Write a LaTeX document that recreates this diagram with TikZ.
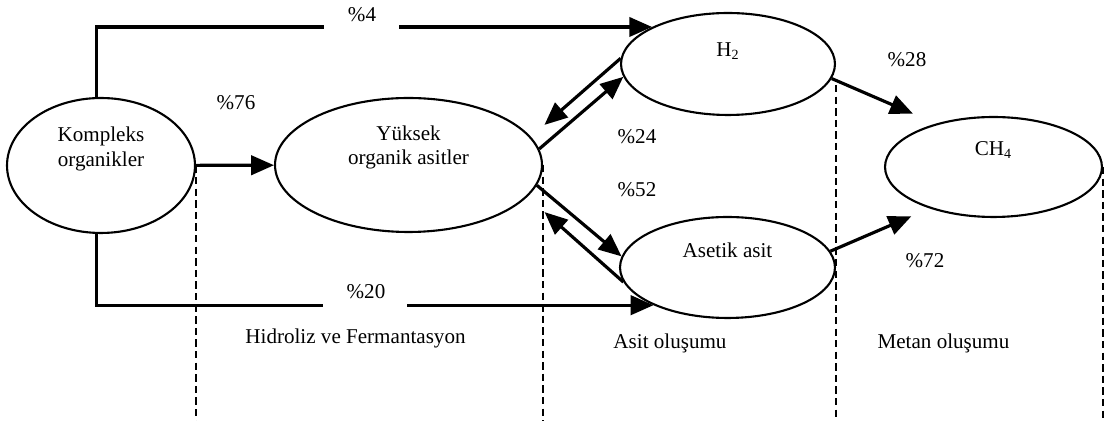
\documentclass[tikz,border=0pt]{standalone}
\usepackage{fontspec}
\setmainfont{Liberation Serif}
\usetikzlibrary{shapes.geometric, arrows.meta}

\begin{document}
\begin{tikzpicture}[
  x=0.02cm, y=-0.02cm,
  stage/.style={ellipse, draw, line width=1.2pt, inner sep=0pt},
  txt/.style={font=\fontsize{12}{14}\selectfont, align=center},
  arr/.style={-{Triangle[length=13pt, width=11pt]}, line width=1.8pt},
  gap/.style={fill=white, inner sep=0pt, minimum height=0.18cm},
  phase/.style={dash pattern=on 4.2pt off 2.4pt, line width=1.2pt}
]
\useasboundingbox (0,0) rectangle (1106,421);

% stages
\node[stage, minimum width=3.76cm, minimum height=2.7cm,
      label={[txt, yshift=0.33cm]center:Kompleks\\organikler}] (kompleks) at (101,165.5) {};
\node[stage, minimum width=5.34cm, minimum height=2.68cm,
      label={[txt, yshift=0.35cm]center:Yüksek\\organik asitler}] (yuksek) at (408.5,165) {};
\node[stage, minimum width=4.28cm, minimum height=2.04cm,
      label={[txt, yshift=0.26cm]center:H\textsubscript{2}}] (h2) at (728,64) {};
\node[stage, minimum width=4.3cm, minimum height=2.02cm,
      label={[txt, yshift=0.35cm]center:Asetik asit}] (asetik) at (727.5,267.5) {};
\node[stage, minimum width=4.34cm, minimum height=2cm,
      label={[txt, yshift=0.34cm]center:CH\textsubscript{4}}] (ch4) at (993.5,167) {};

\coordinate (floor) at (0,421);

% phase borders
\draw[phase] (kompleks.east) -- (kompleks.east |- floor);
\draw[phase] (yuksek.east) -- (yuksek.east |- floor);
\draw[phase] (h2.east |- h2.-12) -- (h2.east |- floor);
\draw[phase] (ch4.east) -- (ch4.east |- floor);

% flows
\draw[arr] (kompleks.94) |- node[gap, pos=0.739, minimum width=1.5cm] (cut4) {} (h2.154);
\draw[arr] (kompleks.266) |- node[gap, pos=0.741, minimum width=1.68cm] (cut20) {} (asetik.207);
\draw[arr] (kompleks) -- (yuksek);
\draw[arr] (yuksek.7) -- (h2.187);
\draw[arr, shorten >=0.36cm] (h2.177) -- (yuksek.13);
\draw[arr] (yuksek.-9) -- (asetik.174);
\draw[arr, shorten >=0.46cm] (asetik.188) -- (yuksek.-15);
\draw[arr, shorten >=0.5cm] (h2.-8) -- (ch4.143);
\draw[arr, shorten >=0.4cm] (asetik.9) -- (ch4.213);

% shares
\node[txt] (p4)  at (362,15)  {\%4};
\node[txt] (p76) at (236,103) {\%76};
\node[txt] (p20) at (366,292) {\%20};
\node[txt] (p24) at (637,137) {\%24};
\node[txt] (p52) at (637,190) {\%52};
\node[txt] (p28) at (907,60)  {\%28};
\node[txt] (p72) at (925,261) {\%72};

% phases
\node[txt] (hidroliz) at (355.5,338) {Hidroliz ve Fermantasyon};
\node[txt] (asitol)   at (670,343)   {Asit oluşumu};
\node[txt] (metanol)  at (943.5,343) {Metan oluşumu};
\end{tikzpicture}
\end{document}
